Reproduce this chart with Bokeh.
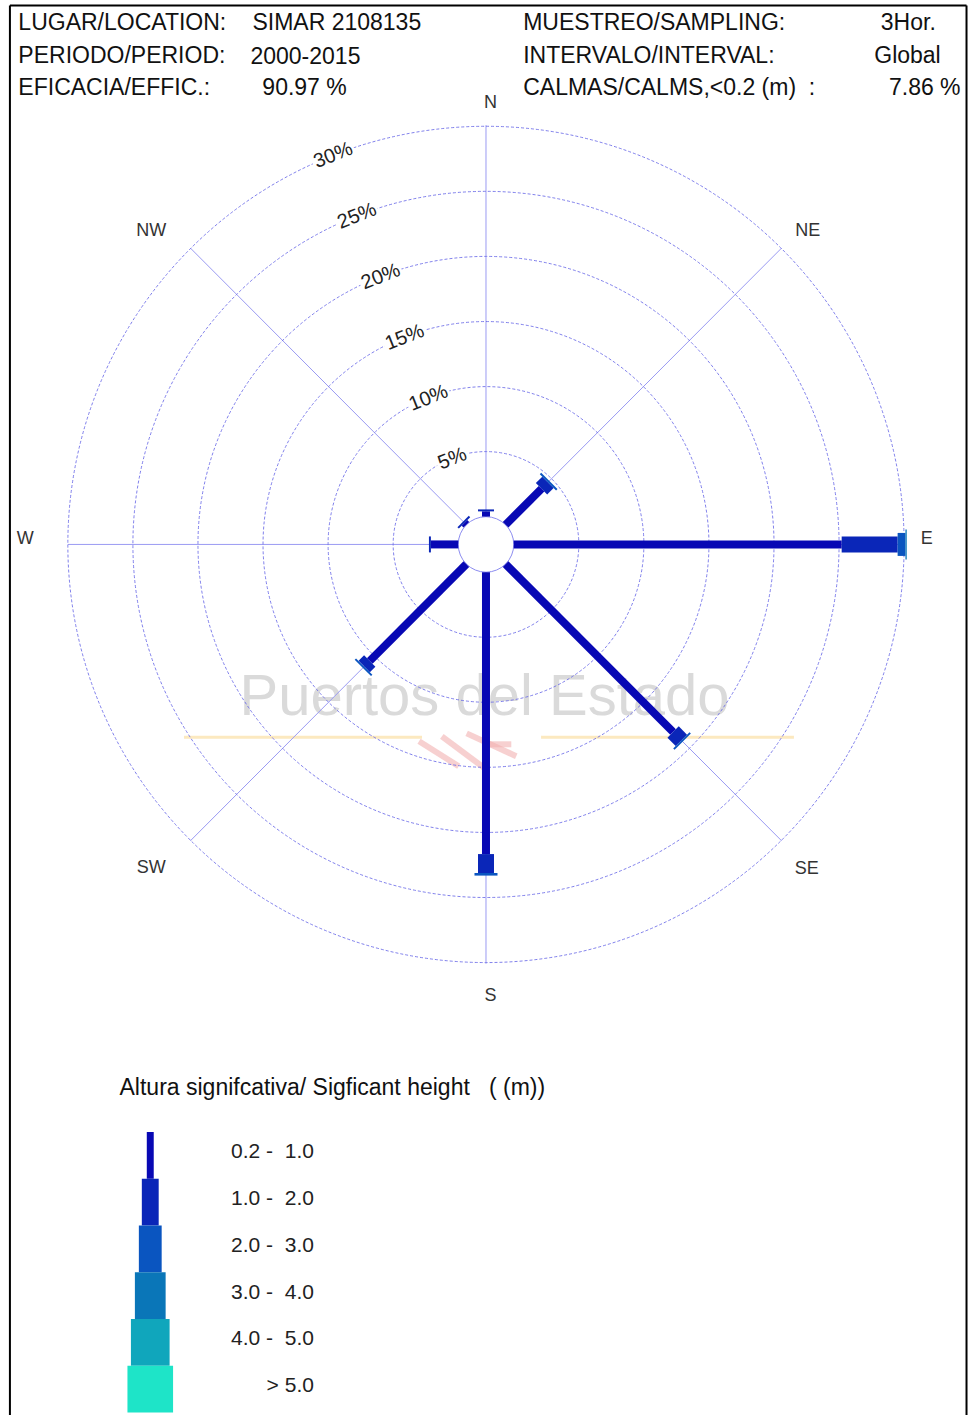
import numpy as np
from bokeh.plotting import figure
from bokeh.models import Range1d
from bokeh.core.properties import value
from bokeh.embed import file_html
from bokeh.resources import INLINE

# ---------------- data ----------------
directions = ["N", "NE", "E", "SE", "S", "SW", "W", "NW"]
bearings_deg = [0, 45, 90, 135, 180, 225, 270, 315]
hs_classes = ["0.2 -\u00a0 1.0", "1.0 -\u00a0 2.0", "2.0 -\u00a0 3.0", "3.0 -\u00a0 4.0",
              "4.0 -\u00a0 5.0", "> 5.0"]
class_colors = ["#0808b4", "#0a26b8", "#0a55c0", "#0a76b8", "#10a6bc", "#1ee4c8"]
# frequency (%) per direction for each significant-height class
hs_02_10 = [0.40, 3.90, 25.20, 18.20, 21.60, 10.50, 2.10, 0.20]
hs_10_20 = [0.15, 0.70, 4.30, 0.90, 1.45, 0.60, 0.15, 0.15]
hs_20_30 = [0.00, 0.15, 0.60, 0.15, 0.20, 0.15, 0.00, 0.00]
hs_30_40 = [0.00, 0.00, 0.10, 0.00, 0.00, 0.00, 0.00, 0.00]
hs_40_50 = [0.00, 0.00, 0.00, 0.00, 0.00, 0.00, 0.00, 0.00]
hs_gt_50 = [0.00, 0.00, 0.00, 0.00, 0.00, 0.00, 0.00, 0.00]
ring_levels = [5, 10, 15, 20, 25, 30]
ring_labels = ["5%", "10%", "15%", "20%", "25%", "30%"]
header_left = [("LUGAR/LOCATION:", "SIMAR 2108135"),
               ("PERIODO/PERIOD:", "2000-2015"),
               ("EFICACIA/EFFIC.:", "90.97 %")]
header_right = [("MUESTREO/SAMPLING:", "3Hor."),
                ("INTERVALO/INTERVAL:", "Global"),
                ("CALMAS/CALMS,<0.2 (m)\u00a0\u00a0:", "7.86 %")]
legend_title = "Altura signifcativa/ Sigficant height\u00a0\u00a0\u00a0( (m))"

series = [hs_02_10, hs_10_20, hs_20_30, hs_30_40, hs_40_50, hs_gt_50]

# ---------------- layout ----------------
W, H = 968, 1415          # figure size
RW, RH = 976, 1423        # reference canvas mapped onto the figure
PX = 13.12                # reference pixels per percent
CX, CY = 489.5, 547.0     # rose centre (reference px)
CALM_R = 28.0 / PX        # calm circle radius (in % units)
bar_widths = [8, 16, 23, 30, 38, 46]
legend_widths = [7, 17, 23, 31, 39, 46]


def X(px):
    return (px - CX) / PX


def Y(py):
    return (CY - py) / PX


p = figure(width=W, height=H, output_backend="svg", toolbar_location=None,
           x_range=Range1d(X(0), X(RW)), y_range=Range1d(Y(RH), Y(0)),
           min_border=0, outline_line_color=None)
p.axis.visible = False
p.grid.visible = False
p.background_fill_color = "white"

FONT = "Liberation Sans"

# watermark
p.text(x=[X(488)], y=[Y(698)], text=["Puertos del Estado"], text_align="center",
       text_baseline="alphabetic", text_font=value(FONT), text_font_size="58px",
       text_color="#dadada")
p.segment(x0=[X(185), X(545)], y0=[Y(741), Y(741)], x1=[X(425), X(800)], y1=[Y(741), Y(741)],
          line_color="#fbe3b0", line_width=3, line_alpha=0.8)
p.segment(x0=[X(422), X(445), X(470), X(490)], y0=[Y(745), Y(740), Y(737), Y(748)],
          x1=[X(462), X(488), X(520), X(515)], y1=[Y(770), Y(772), Y(760), Y(748)],
          line_color="#f2b0b0", line_width=6, line_alpha=0.6)

# spokes
rad = np.deg2rad(bearings_deg)
R_OUT = CALM_R + ring_levels[-1]
p.segment(x0=list(-R_OUT * np.sin(rad[:4])), y0=list(-R_OUT * np.cos(rad[:4])),
          x1=list(R_OUT * np.sin(rad[:4])), y1=list(R_OUT * np.cos(rad[:4])),
          line_color="#9a9af2", line_width=1)

# rings
ring_r = [CALM_R + lv for lv in ring_levels]
p.circle(x=[0] * len(ring_r), y=[0] * len(ring_r), radius=ring_r, fill_color=None,
         line_color="#6a6ae8", line_width=1, line_dash="3 2", line_alpha=0.85)

# ring labels
lab_b = np.deg2rad(-21.5)
p.text(x=[r * np.sin(lab_b) for r in ring_r], y=[r * np.cos(lab_b) for r in ring_r],
       text=ring_labels, angle=np.deg2rad(21.5), text_align="center", text_baseline="middle",
       text_font=value(FONT), text_font_size="20px", text_color="#222222",
       background_fill_color="white", padding=2)

# calm circle
p.circle(x=[0], y=[0], radius=CALM_R, fill_color="white", line_color="#8c8cf0", line_width=1)

# bars
starts = np.full(len(directions), CALM_R)
for k, vals in enumerate(series):
    vals = np.array(vals)
    ends = starts + vals
    m = vals > 0
    if m.any():
        p.segment(x0=list(starts[m] * np.sin(rad[m])), y0=list(starts[m] * np.cos(rad[m])),
                  x1=list(ends[m] * np.sin(rad[m])), y1=list(ends[m] * np.cos(rad[m])),
                  line_color=class_colors[k], line_width=bar_widths[k], line_cap="butt")
    starts = ends

# direction labels
lab_pos = {"N": (494, 102), "NE": (814, 231), "E": (934, 541), "SE": (813, 872),
           "S": (494, 1000), "SW": (152, 871), "W": (25, 541), "NW": (152, 231)}
p.text(x=[X(lab_pos[d][0]) for d in directions], y=[Y(lab_pos[d][1]) for d in directions],
       text=directions, text_align="center", text_baseline="middle",
       text_font=value(FONT), text_font_size="18px", text_color="#333333")

# header
rows_y = [22, 55, 87]
HF = "23px"
p.text(x=[X(18)] * 3, y=[Y(v) for v in rows_y], text=[a for a, b in header_left],
       text_align="left", text_baseline="middle", text_font=value(FONT),
       text_font_size=HF, text_color="#111111")
p.text(x=[X(254), X(252), X(264)], y=[Y(v) for v in rows_y], text=[b for a, b in header_left],
       text_align="left", text_baseline="middle", text_font=value(FONT),
       text_font_size=HF, text_color="#111111")
p.text(x=[X(527)] * 3, y=[Y(v) for v in rows_y], text=[a for a, b in header_right],
       text_align="left", text_baseline="middle", text_font=value(FONT),
       text_font_size=HF, text_color="#111111")
p.text(x=[X(943), X(948), X(968)], y=[Y(v) for v in rows_y], text=[b for a, b in header_right],
       text_align="right", text_baseline="middle", text_font=value(FONT),
       text_font_size=HF, text_color="#111111")

# legend
p.text(x=[X(120)], y=[Y(1093)], text=[legend_title], text_align="left", text_baseline="middle",
       text_font=value(FONT), text_font_size="23px", text_color="#111111")
leg_top = 1138
leg_h = 47
lx = 151
p.quad(left=[X(lx - w / 2) for w in legend_widths], right=[X(lx + w / 2) for w in legend_widths],
       top=[Y(leg_top + i * leg_h) for i in range(6)],
       bottom=[Y(leg_top + (i + 1) * leg_h) for i in range(6)],
       fill_color=class_colors, line_color=None)
p.text(x=[X(316)] * 6, y=[Y(leg_top + (i + 0.4) * leg_h) for i in range(6)], text=hs_classes,
       text_align="right", text_baseline="middle", text_font=value(FONT),
       text_font_size="21px", text_color="#222222")

# frame
p.segment(x0=[X(9.5), X(9.5), X(974)], y0=[Y(5), Y(5), Y(5)],
          x1=[X(974), X(9.5), X(974)], y1=[Y(5), Y(1423), Y(1423)],
          line_color="black", line_width=2)

open("out.html", "w").write(file_html(p, INLINE))
